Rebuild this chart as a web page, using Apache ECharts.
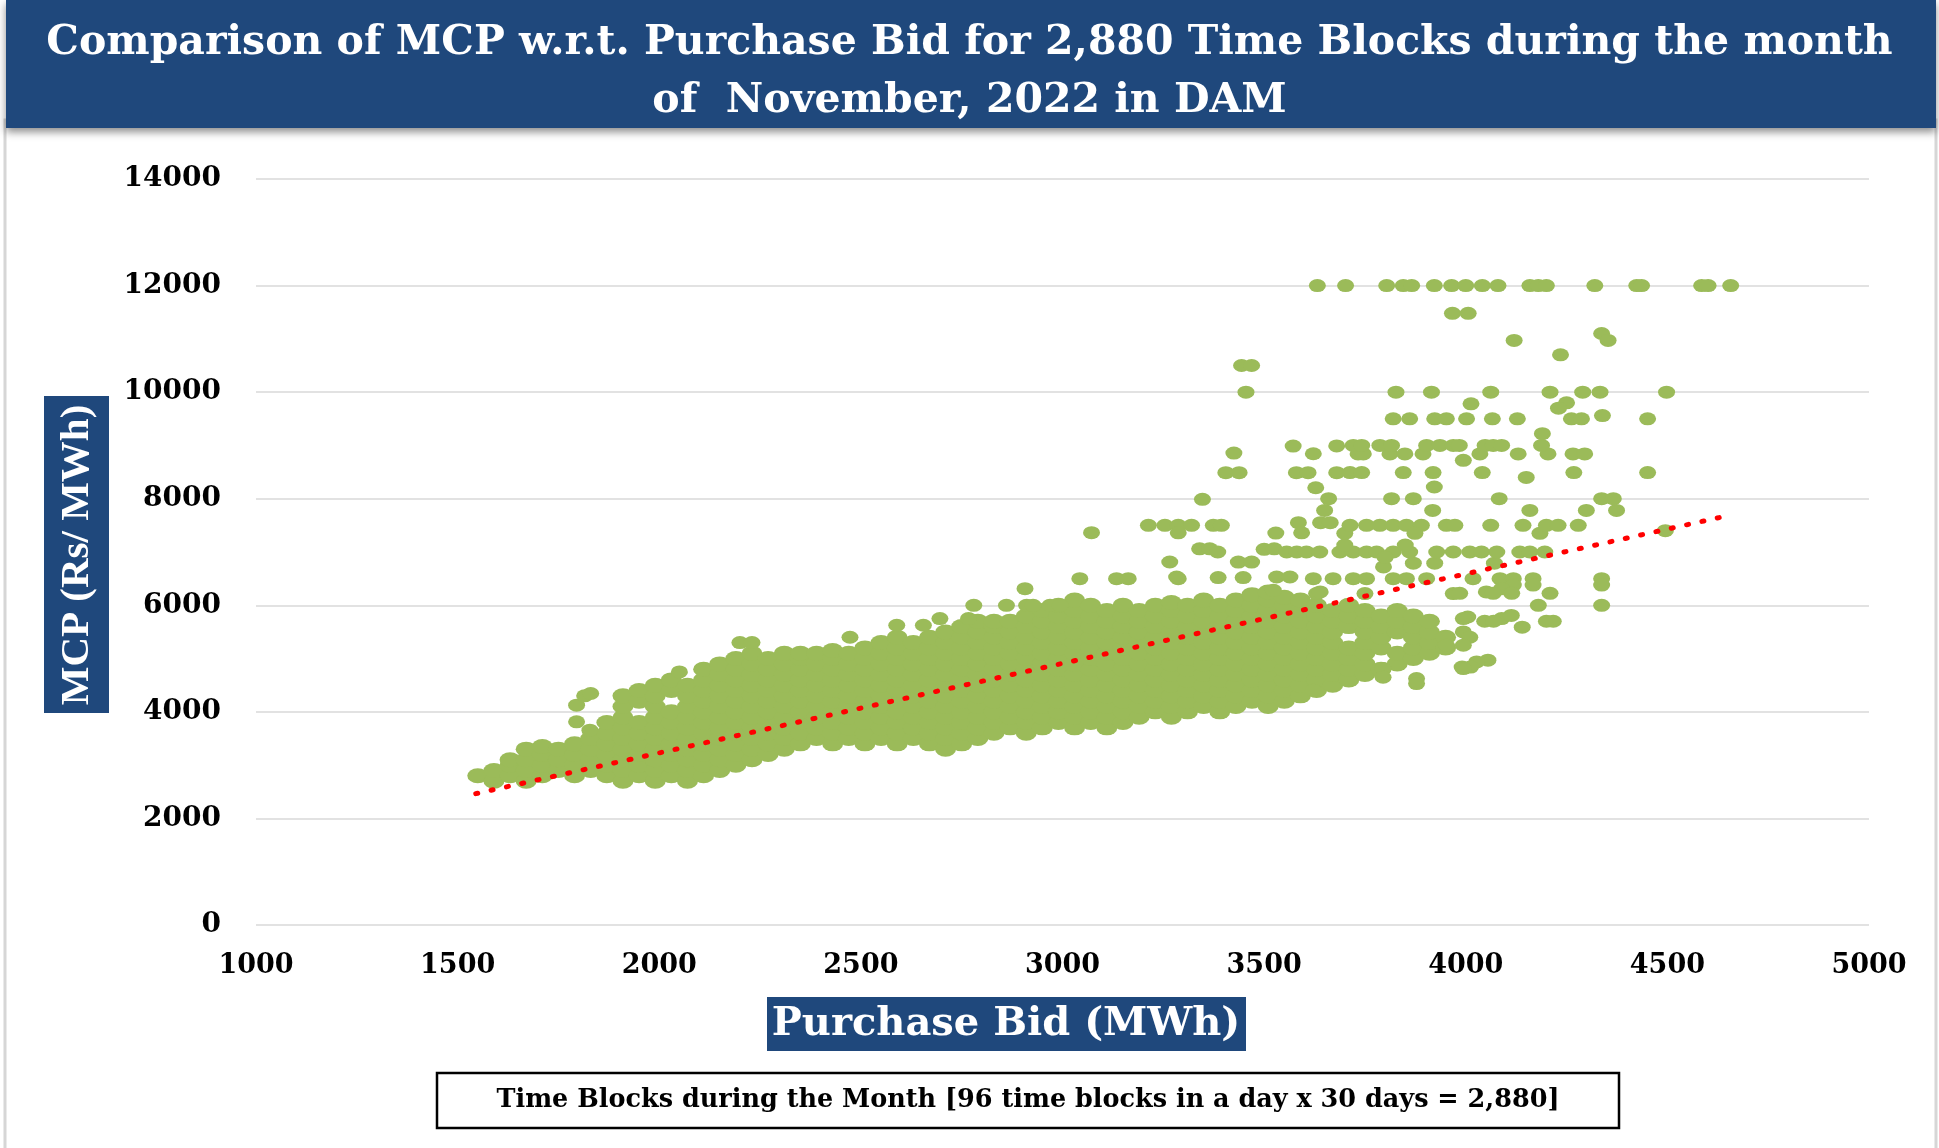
<!DOCTYPE html>
<html><head><meta charset="utf-8">
<script src="https://cdn.jsdelivr.net/npm/echarts@6/dist/echarts.min.js"></script>
<style>html,body{margin:0;padding:0;background:#fff}#c{width:1939px;height:1148px}</style>
</head><body><div id="c"></div><script>
// ---- Data (Purchase Bid MWh, MCP Rs/MWh) ----
// Dense band: each row = [bid, mcp, mcp, ...]
const denseLeft = [
  [1550, 2800],
  [1590, 2700, 2900],
  [1630, 2800, 3000, 3100],
  [1670, 2700, 2900, 3100, 3300],
  [1710, 2800, 3000, 3200, 3350],
  [1750, 2900, 3100, 3300],
  [1790, 2800, 3000, 3200, 3400],
  [1830, 2900, 3100, 3300, 3500],
  [1870, 2800, 3000, 3200, 3400, 3600, 3800],
  [1910, 2700, 2900, 3100, 3300, 3500, 3700, 3900, 4100, 4300],
  [1950, 2800, 3000, 3200, 3400, 3600, 3800, 4200, 4400],
  [1990, 2700, 2900, 3100, 3300, 3500, 3700, 3900, 4100, 4300, 4500],
  [2030, 2800, 3000, 3200, 3400, 3600, 3800, 4000, 4400, 4600],
  [2070, 2700, 2900, 3100, 3300, 3500, 3700, 3900, 4100, 4300, 4500],
  [2110, 2800, 3000, 3200, 3400, 3600, 3800, 4000, 4200, 4400, 4600, 4800],
  [2150, 2900, 3100, 3300, 3500, 3700, 3900, 4100, 4300, 4500, 4700, 4900],
  [2190, 3000, 3200, 3400, 3600, 3800, 4000, 4200, 4400, 4600, 4800, 5000],
  [2230, 3100, 3300, 3500, 3700, 3900, 4100, 4300, 4500, 4700, 4900, 5100],
  [2270, 3200, 3400, 3600, 3800, 4000, 4200, 4400, 4600, 4800, 5000]
];
const denseMid = [
  [2310, 3300, 3500, 3700, 3900, 4100, 4300, 4500, 4700, 4900, 5100],
  [2350, 3400, 3600, 3800, 4000, 4200, 4400, 4600, 4800, 5000, 5100],
  [2390, 3500, 3700, 3900, 4100, 4300, 4500, 4700, 4900, 5100],
  [2430, 3400, 3600, 3800, 4000, 4200, 4400, 4600, 4800, 5000, 5150],
  [2470, 3500, 3700, 3900, 4100, 4300, 4500, 4700, 4900, 5100],
  [2510, 3400, 3600, 3800, 4000, 4200, 4400, 4600, 4800, 5000, 5200],
  [2550, 3500, 3700, 3900, 4100, 4300, 4500, 4700, 4900, 5100, 5300],
  [2590, 3400, 3600, 3800, 4000, 4200, 4400, 4600, 4800, 5000, 5200, 5400],
  [2630, 3500, 3700, 3900, 4100, 4300, 4500, 4700, 4900, 5100, 5300],
  [2670, 3400, 3600, 3800, 4000, 4200, 4400, 4600, 4800, 5000, 5200, 5400],
  [2710, 3300, 3500, 3700, 3900, 4100, 4300, 4500, 4700, 4900, 5100, 5300, 5500],
  [2750, 3400, 3600, 3800, 4000, 4200, 4400, 4600, 4800, 5000, 5200, 5400, 5600],
  [2790, 3500, 3700, 3900, 4100, 4300, 4500, 4700, 4900, 5100, 5300, 5500, 5700],
  [2830, 3600, 3800, 4000, 4200, 4400, 4600, 4800, 5000, 5200, 5400, 5600, 5700],
  [2870, 3700, 3900, 4100, 4300, 4500, 4700, 4900, 5100, 5300, 5500, 5700],
  [2910, 3600, 3800, 4000, 4200, 4400, 4600, 4800, 5000, 5200, 5400, 5600, 5800],
  [2950, 3700, 3900, 4100, 4300, 4500, 4700, 4900, 5100, 5300, 5500, 5700, 5900],
  [2990, 3800, 4000, 4200, 4400, 4600, 4800, 5000, 5200, 5400, 5600, 5800, 6000]
];
const denseRight = [
  [3030, 3700, 3900, 4100, 4300, 4500, 4700, 4900, 5100, 5300, 5500, 5700, 5900, 6100],
  [3070, 3800, 4000, 4200, 4400, 4600, 4800, 5000, 5200, 5400, 5600, 5800, 6000],
  [3110, 3700, 3900, 4100, 4300, 4500, 4700, 4900, 5100, 5300, 5500, 5700, 5900],
  [3150, 3800, 4000, 4200, 4400, 4600, 4800, 5000, 5200, 5400, 5600, 5800, 6000],
  [3190, 3900, 4100, 4300, 4500, 4700, 4900, 5100, 5300, 5500, 5700, 5900],
  [3230, 4000, 4200, 4400, 4600, 4800, 5000, 5200, 5400, 5600, 5800, 6000],
  [3270, 3900, 4100, 4300, 4500, 4700, 4900, 5100, 5300, 5500, 5700, 5900, 6050],
  [3310, 4000, 4200, 4400, 4600, 4800, 5000, 5200, 5400, 5600, 5800, 6000],
  [3350, 4100, 4300, 4500, 4700, 4900, 5100, 5300, 5500, 5700, 5900, 6100],
  [3390, 4000, 4200, 4400, 4600, 4800, 5000, 5200, 5400, 5600, 5800, 6000],
  [3430, 4100, 4300, 4500, 4700, 4900, 5100, 5300, 5500, 5700, 5900, 6100],
  [3470, 4200, 4400, 4600, 4800, 5000, 5200, 5400, 5600, 5800, 6000, 6200],
  [3510, 4100, 4300, 4500, 4700, 4900, 5100, 5300, 5500, 5700, 5900, 6100, 6250],
  [3550, 4200, 4400, 4600, 4800, 5000, 5200, 5400, 5600, 5800, 6000, 6150],
  [3590, 4300, 4500, 4700, 4900, 5100, 5300, 5500, 5700, 5900, 6100],
  [3630, 4400, 4600, 4800, 5000, 5200, 5400, 5600, 5800, 6000],
  [3670, 4500, 4700, 4900, 5100, 5300, 5500, 5700, 5900],
  [3710, 4600, 4800, 5000, 5200, 5600, 5800, 6000],
  [3750, 4700, 4900, 5100, 5300, 5500, 5700, 5900],
  [3790, 4800, 5200, 5400, 5600, 5800],
  [3830, 4900, 5100, 5500, 5700, 5900],
  [3870, 5000, 5200, 5400, 5600, 5800],
  [3910, 5100, 5300, 5500, 5700],
  [3950, 5200, 5400]
];
// Scattered points near / above the band: [bid, mcp]
const sparseLow = [
  [1795,3812],[1795,4125],[1815,4300],[1830,4344],[1828,3656],
  [2050,4750],[2200,5300],[2230,5300],[2473,5400],[2589,5625],[2655,5625],[2696,5750],[2767,5750],
  [2780,6000],[2861,6000],[2911,6000],[2927,6000],[2969,6000],[2994,6000],[2907,6312],
  [3043,6500],[3134,6500],[3163,6500],[3266,6812],[3283,6531],[3287,6500],[3386,6520],[3448,6520],
  [3436,6810],[3469,6810],[3523,6281],[3531,6531],[3564,6531],
  [3622,6500],[3630,6219],[3639,6250],[3671,6500],[3721,6500],[3754,6500],[3750,6220],[3796,6720],
  [3820,6500],[3853,6500],[3903,6500],[3870,6790],[3923,6790],[3969,6219],
  [4018,6500],[4085,6500],[4118,6500],[4167,6500],[4337,6500],[4118,6380],[4167,6380],[4337,6380],
  [3985,6225],[4051,6250],[4089,6312],[4068,6225],[4114,6225],[4209,6225],[4071,6790],
  [4180,6000],[4337,6000],[4005,5780],[3994,5750],[4047,5700],[4089,5750],[4069,5700],[4113,5810],
  [4140,5590],[4200,5700],[4217,5700],[3994,5500],[4010,5400],[3994,5250],[3952,5250],[4055,4970],
  [4027,4937],[3991,4840],[4012,4840],[3994,4812],[3795,4812],[3795,4650],[3878,4625],[3622,4406],[3878,4531]
];
const sparseMid = [
  [3340,7060],[3365,7060],[3385,7000],[3500,7050],[3525,7060],[3556,7000],[3581,7000],[3605,7000],
  [3638,7000],[3688,7000],[3721,7000],[3754,7000],[3779,7000],[3820,7000],[3861,7000],[3928,7000],
  [3969,7000],[4010,7000],[4039,7000],[4077,7000],[4134,7000],[4159,7000],[4196,7000],[3700,7130],
  [3850,7130],[3800,6900],
  [3072,7362],[3213,7500],[3254,7500],[3287,7500],[3320,7500],[3374,7500],[3394,7500],[3287,7360],
  [3529,7356],[3585,7550],[3593,7360],[3640,7550],[3664,7550],[3700,7350],[3713,7500],[3754,7500],
  [3787,7500],[3820,7500],[3853,7500],[3890,7500],[3874,7350],[3952,7500],[3973,7500],[4062,7500],
  [4142,7500],[4184,7350],[4200,7500],[4229,7500],[4279,7500],[4495,7400],
  [3650,7780],[3918,7780],[4159,7780],[4299,7780],[4374,7780],[3347,7988],[3660,8000],[3816,8000],
  [3870,8000],[4083,8000],[4337,8000],[4366,8000],[3628,8206],[3922,8220],
  [3405,8488],[3438,8488],[3580,8488],[3609,8488],[3680,8488],[3713,8490],[3742,8490],[3845,8490],
  [3919,8490],[4041,8490],[4150,8400],[4268,8490],[4451,8490],
  [3425,8856],[3622,8844],[3733,8840],[3746,8840],[3812,8840],[3849,8840],[3894,8840],[3994,8720],
  [4035,8840],[4130,8840],[4204,8840],[4266,8840],[4295,8840],
  [3572,8988],[3680,8990],[3721,9000],[3742,9000],[3787,9000],[3816,9000],[3903,9000],[3936,9000],
  [3969,9000],[3984,9000],[4048,9000],[4068,9000],[4089,9000],[4188,9000]
];
const sparseHigh = [
  [4190,9220],[3820,9500],[3861,9500],[3923,9500],[3952,9500],[4002,9500],[4066,9500],[4128,9500],
  [4262,9500],[4287,9500],[4339,9560],[4451,9500],[4013,9780],[4250,9800],[4230,9700],
  [3455,10000],[3827,10000],[3915,10000],[4062,10000],[4209,10000],[4290,10000],[4333,10000],[4498,10000],
  [3444,10500],[3469,10500],[4235,10700],[4120,10970],[4337,11100],[4353,10970],[3967,11480],[4006,11480]
];
// Blocks that cleared at the price cap
const capMCP = 12000;
const capBids = [3632,3702,3804,3845,3866,3922,3965,4000,4041,4080,4159,4180,4200,4320,4424,4436,4585,4601,4657];
// Linear trendline end points
const trendBid = [1545, 4640];
const trendMCP = [2465, 7665];

const xTicks = { min: 1000, max: 5000, step: 500 };
const yTicks = { min: 0, max: 14000, step: 2000 };

// ---- Build series data ----
function expand(cols, out) {
  cols.forEach(function (c) { for (let i = 1; i < c.length; i++) out.push([c[0], c[i]]); });
  return out;
}
const densePts = expand(denseLeft.concat(denseMid, denseRight), []);
const loosePts = [];
sparseLow.concat(sparseMid, sparseHigh).forEach(function (p) { loosePts.push(p); });
capBids.forEach(function (b) { loosePts.push([b, capMCP]); });
const trend = trendBid.map(function (b, i) { return [b, trendMCP[i]]; });

const NAVY = '#1F487C';
const GREEN = '#9BBB59';
const SERIF = '"DejaVu Serif", "Liberation Serif", serif';
const chart = echarts.init(document.getElementById('c'), null, { renderer: 'canvas' });
chart.setOption({
  animation: false,
  backgroundColor: '#ffffff',
  title: {
    text: 'Comparison of MCP w.r.t. Purchase Bid for 2,880 Time Blocks during the month\nof  November, 2022 in DAM',
    left: 'center', top: 14, padding: 0, z: 20,
    textStyle: { color: '#ffffff', fontFamily: SERIF, fontWeight: 'bold', fontSize: 41, lineHeight: 58 }
  },
  grid: { left: 256, right: 70, top: 179, bottom: 223, containLabel: false },
  xAxis: {
    type: 'value', min: xTicks.min, max: xTicks.max, interval: xTicks.step,
    axisLine: { show: false }, axisTick: { show: false }, splitLine: { show: false },
    axisLabel: { color: '#000', fontFamily: SERIF, fontWeight: 'bold', fontSize: 27, margin: 27,
                 formatter: function (v) { return String(v); } }
  },
  yAxis: {
    type: 'value', min: yTicks.min, max: yTicks.max, interval: yTicks.step,
    axisLine: { show: false }, axisTick: { show: false },
    splitLine: { show: true, lineStyle: { color: '#d9d9d9', width: 1.5 } },
    axisLabel: { color: '#000', fontFamily: SERIF, fontWeight: 'bold', fontSize: 28, margin: 35,
                 formatter: function (v) { return String(v); } }
  },
  graphic: [
    { type: 'rect', z: 0, shape: { x: 5, y: 120, width: 1931, height: 1040 },
      style: { fill: 'none', stroke: '#d6d6d6', lineWidth: 3 } },
    { type: 'rect', z: 1, shape: { x: 6, y: 0, width: 1930, height: 128 },
      style: { fill: NAVY, shadowBlur: 8, shadowOffsetY: 4, shadowColor: 'rgba(0,0,0,0.45)' } },
    { type: 'rect', z: 1, shape: { x: 44, y: 396, width: 65, height: 317 }, style: { fill: NAVY } },
    { type: 'text', z: 2, x: 77, y: 555, rotation: Math.PI / 2,
      style: { text: 'MCP (Rs/ MWh)', fill: '#fff', font: 'bold 41px "Liberation Serif", serif',
               textAlign: 'center', textVerticalAlign: 'middle' } },
    { type: 'rect', z: 1, shape: { x: 767, y: 997, width: 479, height: 54 }, style: { fill: NAVY } },
    { type: 'text', z: 2, x: 1006, y: 1025,
      style: { text: 'Purchase Bid (MWh)', fill: '#fff', font: 'bold 40px ' + SERIF,
               textAlign: 'center', textVerticalAlign: 'middle' } },
    { type: 'rect', z: 1, shape: { x: 437, y: 1073, width: 1182, height: 55 },
      style: { fill: '#fff', stroke: '#000', lineWidth: 2.5 } },
    { type: 'text', z: 2, x: 1028, y: 1100,
      style: { text: 'Time Blocks during the Month [96 time blocks in a day x 30 days = 2,880]', fill: '#000',
               font: 'bold 25.5px ' + SERIF, textAlign: 'center', textVerticalAlign: 'middle' } }
  ],
  series: [
    { name: 'MCP', type: 'scatter', data: densePts, symbol: 'circle', symbolSize: [21, 15],
      itemStyle: { color: GREEN, opacity: 1 }, silent: true, z: 2 },
    { name: 'MCP', type: 'scatter', data: loosePts, symbol: 'circle', symbolSize: [17, 13],
      itemStyle: { color: GREEN, opacity: 1 }, silent: true, z: 2 },
    { name: 'Trend', type: 'line', data: trend, symbol: 'none', silent: true, z: 3,
      lineStyle: { color: '#FF0000', width: 5, type: [2, 13.7], cap: 'round' } }
  ]
});
</script></body></html>
